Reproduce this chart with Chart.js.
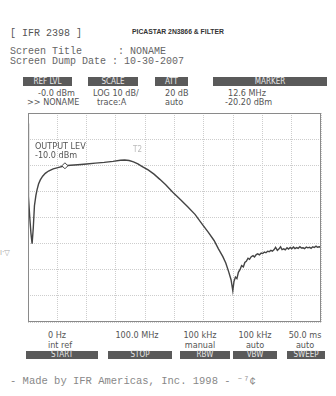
<!DOCTYPE html>
<html>
<head>
<meta charset="utf-8">
<script src="https://cdn.jsdelivr.net/npm/chart.js@4"></script>
<style>
  body { margin: 0; background: #fff; }
  #page { position: relative; width: 336px; height: 396px; overflow: hidden; background: #fff; }
  .t { position: absolute; white-space: pre; line-height: 1; }
  .mono { font-family: "Liberation Mono", "DejaVu Sans Mono", monospace; font-size: 10px; color: #666; }
  .nar { font-family: "Liberation Sans Narrow", "DejaVu Sans Condensed", "Liberation Sans", sans-serif; font-size: 9px; color: #555; }
  .c { transform: translateX(-50%); }
  .bar { position: absolute; background: #5a5a5a; color: #e8e8e8; text-align: center;
         font-family: "Liberation Sans Narrow", "DejaVu Sans Condensed", sans-serif; font-size: 8px; line-height: 9px; }
  #wrap { position: absolute; left: 23px; top: 108px; width: 303px; height: 219px; }
</style>
</head>
<body>
<div id="page">
  <div class="t mono" style="left:10px;top:29px;color:#555">[ IFR 2398 ]</div>
  <div class="t" style="left:132px;top:28px;font:bold 6.8px 'Liberation Sans',Arial,sans-serif;color:#333">PICASTAR 2N3866 &amp; FILTER</div>
  <div class="t mono" style="left:10px;top:47px">Screen Title      : NONAME</div>
  <div class="t mono" style="left:10px;top:57px">Screen Dump Date : 10-30-2007</div>

  <div class="bar" style="left:23px;top:77px;width:49px;height:9px">REF LVL</div>
  <div class="bar" style="left:88px;top:77px;width:50px;height:9px">SCALE</div>
  <div class="bar" style="left:155px;top:77px;width:33px;height:9px">ATT</div>
  <div class="bar" style="left:213px;top:77px;width:114px;height:9px">MARKER</div>

  <div class="t nar" style="left:38px;top:89px">-0.0 dBm</div>
  <div class="t nar" style="left:27px;top:98px">&gt;&gt; NONAME</div>
  <div class="t nar" style="left:93px;top:89px">LOG 10 dB/</div>
  <div class="t nar" style="left:97px;top:98px">trace:A</div>
  <div class="t nar" style="left:165px;top:89px">20 dB</div>
  <div class="t nar" style="left:165px;top:98px">auto</div>
  <div class="t nar" style="left:228px;top:89px">12.6 MHz</div>
  <div class="t nar" style="left:225px;top:98px">-20.20 dBm</div>

  <div id="wrap"><canvas id="chart" width="303" height="219"></canvas></div>

  <div class="t nar" style="left:35px;top:142px">OUTPUT LEV</div>
  <div class="t nar" style="left:35px;top:151px">-10.0 dBm</div>
  <div class="t nar" style="left:133px;top:146px;color:#bbb;font-size:8px">T2</div>
  <div class="t nar" style="left:0px;top:249px;color:#aaa;font-size:8px">ı·▽</div>

  <div class="t nar c" style="left:57px;top:331px">0 Hz</div>
  <div class="t nar c" style="left:60px;top:341px">int ref</div>
  <div class="t nar c" style="left:137px;top:331px">100.0 MHz</div>
  <div class="t nar c" style="left:200px;top:331px">100 kHz</div>
  <div class="t nar c" style="left:200px;top:341px">manual</div>
  <div class="t nar c" style="left:255px;top:331px">100 kHz</div>
  <div class="t nar c" style="left:255px;top:341px">auto</div>
  <div class="t nar c" style="left:305px;top:331px">50.0 ms</div>
  <div class="t nar c" style="left:305px;top:341px">auto</div>

  <div class="bar" style="left:26px;top:351px;width:72px;height:8px;line-height:8px">START</div>
  <div class="bar" style="left:108px;top:351px;width:64px;height:8px;line-height:8px">STOP</div>
  <div class="bar" style="left:180px;top:351px;width:50px;height:8px;line-height:8px">RBW</div>
  <div class="bar" style="left:233px;top:351px;width:44px;height:8px;line-height:8px">VBW</div>
  <div class="bar" style="left:287px;top:351px;width:38px;height:8px;line-height:8px">SWEEP</div>

  <div class="t mono" style="left:10px;top:376px;font-size:10.5px;color:#888">- Made by IFR Americas, Inc. 1998 - ⁻⁷¢</div>
</div>

<script>
// trace A, frequency in MHz, level in dBm
const freqs = [
  0, 0.15, 0.6, 1.0, 1.4, 1.8, 2.2, 2.7, 3.1, 3.6, 4.2, 5.0, 5.9, 7.0, 8.6, 10.5, 12.6,
  14.5, 17.0, 20.0, 23.0, 26.0, 29.0, 31.5, 33.0, 34.5, 36.0, 37.5, 39.0, 41.0, 43.0,
  45.0, 47.0, 49.5, 52.0, 54.5, 57.0, 59.5, 61.5, 63.5, 65.0, 66.5, 67.5, 68.5, 69.3,
  69.9, 70.3, 70.8, 71.3, 71.8, 72.4, 72.9, 73.5, 74.0, 74.5, 75.1, 75.6, 76.2, 76.8,
  77.3, 77.9, 78.4, 79.0, 79.6, 80.1, 80.7, 81.2, 81.8, 82.3, 82.9, 83.4, 84.0, 84.5,
  85.1, 85.6, 86.2, 86.7, 87.3, 87.8, 88.4, 88.9, 89.5, 90.0, 90.6, 91.1, 91.7, 92.2,
  92.8, 93.3, 93.9, 94.4, 95.0, 95.5, 96.1, 96.6, 97.2, 97.7, 98.3, 98.8, 99.4, 100
];
const levels = [
  -4, -32, -40, -46, -50, -44, -35.5, -31.5, -29.3, -27.2, -25.6, -24.2, -23.1, -22.2, -21.4, -20.8, -20.2,
  -20.0, -19.8, -19.5, -19.2, -18.9, -18.5, -18.1, -18.0, -18.2, -18.7, -19.5, -20.5, -21.8, -23.4,
  -25.4, -27.5, -30.4, -33.1, -35.9, -38.8, -42.6, -45.6, -48.8, -52.0, -55.0, -57.4, -60.8, -63.8,
  -68.0, -64.5, -62.8, -63.4, -61.0, -59.9, -58.4, -58.9, -57.2, -56.8, -55.6, -56.0, -55.0, -54.6,
  -55.1, -54.2, -53.9, -54.3, -53.6, -53.8, -53.2, -53.5, -52.9, -53.1, -52.6, -52.9, -52.3, -51.4,
  -52.6, -52.1, -51.2, -52.3, -52.0, -52.4, -51.6, -52.1, -51.5, -52.0, -51.3, -51.9, -51.5, -51.8,
  -51.2, -51.7, -51.6, -51.9, -51.3, -51.6, -51.4, -51.8, -51.2, -51.5, -51.0, -51.4, -51.2, -51.3
];

// marker readout
const markerFreq = [12.6];
const markerLevel = [-20.2];

// screen grid: 0..100 MHz, ref level 0 dBm, 10 dB/div
const xMin = 0, xMax = 100, xStep = 10;
const yMin = -80, yMax = 0, yStep = 10;

const frame = {
  id: 'frame',
  afterDraw(chart) {
    const { ctx, chartArea: a } = chart;
    ctx.save();
    ctx.strokeStyle = '#8a8a8a';
    ctx.lineWidth = 1;
    ctx.strokeRect(a.left + 0.5, a.top + 0.5, a.right - a.left - 1, a.bottom - a.top - 1);
    ctx.restore();
  }
};

const ctx = document.getElementById('chart').getContext('2d');
new Chart(ctx, {
  type: 'line',
  data: {
    datasets: [{
      data: markerFreq.map((f, i) => ({ x: f, y: markerLevel[i] })),
      showLine: false,
      pointStyle: 'rectRot',
      pointRadius: 3,
      pointBackgroundColor: '#fff',
      pointBorderColor: '#444',
      pointBorderWidth: 1
    }, {
      data: freqs.map((f, i) => ({ x: f, y: levels[i] })),
      borderColor: '#444',
      borderWidth: 1.4,
      pointRadius: 0,
      tension: 0
    }]
  },
  options: {
    responsive: false,
    animation: false,
    devicePixelRatio: 1,
    layout: { padding: 1 },
    plugins: { legend: { display: false }, tooltip: { enabled: false } },
    scales: {
      x: {
        type: 'linear', min: xMin, max: xMax,
        ticks: { display: false, stepSize: xStep },
        grid: { color: '#cdcdcd', drawTicks: false },
        border: { display: false, dash: [1, 1] }
      },
      y: {
        min: yMin, max: yMax,
        ticks: { display: false, stepSize: yStep },
        grid: { color: '#cdcdcd', drawTicks: false },
        border: { display: false, dash: [1, 1] }
      }
    }
  },
  plugins: [frame]
});
</script>
</body>
</html>
